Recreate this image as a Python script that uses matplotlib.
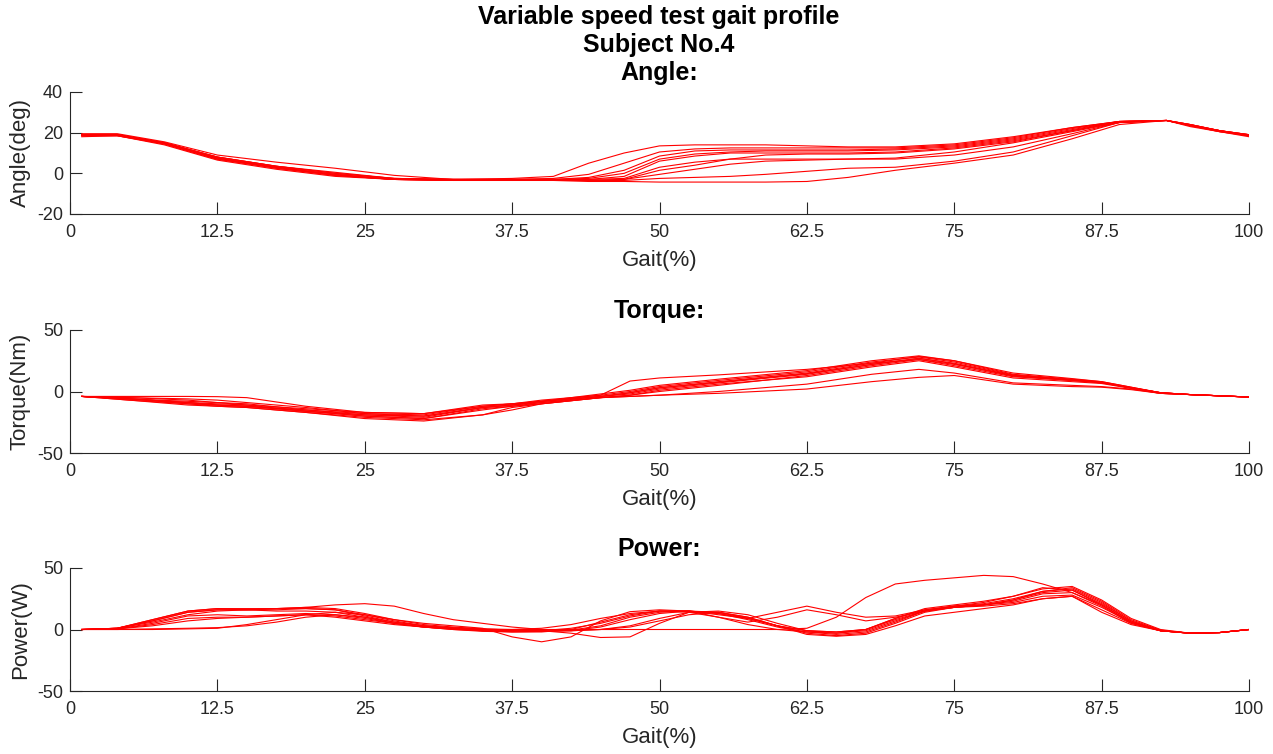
"""Variable speed test gait profile - subject 4 (angle / torque / power)."""
import matplotlib
matplotlib.use("Agg")
import matplotlib.pyplot as plt

plt.rcParams["font.family"] = ["Liberation Sans", "DejaVu Sans"]
plt.rcParams["axes.unicode_minus"] = False

# ---- data ----
gait_ticks = [0, 12.5, 25, 37.5, 50, 62.5, 75, 87.5, 100]
gait_labels = ["0", "12.5", "25", "37.5", "50", "62.5", "75", "87.5", "100"]

angle_x = [1, 4, 8, 12.5, 17.5, 22.5, 27.5, 32.5, 37.5, 41, 44, 47, 50, 53, 56,
           59, 62.5, 66, 70, 75, 80, 85, 89, 93, 95, 97.5, 100]
angle_trials = [
    [19, 19, 15, 8, 3.5, 0.5, -2.5, -3, -2.5, -1.5, 5, 10, 13.5, 14, 14, 14, 13.5, 13, 13, 14.5, 18, 22.5, 25.5, 26, 24, 21, 19],
    [19.5, 19.5, 15.5, 9, 5.5, 2.5, -1, -3, -3, -2.5, -0.5, 5, 10.5, 12, 12.5, 12.5, 12.5, 12.5, 12.5, 14, 17.5, 22.5, 25.5, 26, 23.5, 20.5, 18.5],
    [18, 18.5, 14, 6.5, 2, -1.5, -3, -3.5, -3, -3, -2, 1.5, 8.5, 11, 11.5, 11.5, 11.5, 11.5, 12, 13.5, 17, 22, 25.5, 26, 23.5, 21, 18.5],
    [19, 19, 15, 8, 3.5, 0, -2.5, -3, -3, -3, -2.5, 0, 7, 9.5, 10.5, 11, 11, 11, 11.5, 13, 16.5, 21.5, 25.5, 26, 24, 21, 19],
    [18.5, 19, 14.5, 7, 3, -1, -3, -3.5, -3.5, -3, -3, -1.5, 6, 8.5, 10, 10, 10, 10, 10.5, 12.5, 16, 21, 25, 26, 23, 20.5, 18],
    [19, 19, 15, 7.5, 3, -0.5, -3, -3, -3, -3, -3, -2.5, 3, 5.5, 7, 7, 7, 7, 7.5, 10.5, 15, 20.5, 25, 26, 24, 21, 19],
    [18.5, 18.5, 14.5, 7, 2.5, -1, -3, -3.5, -3.5, -3.5, -3.5, -3, 1.5, 4, 7, 9, 9.5, 9.5, 10, 12, 15.5, 21, 25.5, 26, 23.5, 20.5, 18.5],
    [19, 19, 15, 8, 3.5, 0, -2.5, -3, -3, -3, -3.5, -3, -0.5, 2, 4.5, 6, 6.5, 7, 7, 9, 13, 19.5, 25, 26, 24, 21, 19],
    [18.5, 18.5, 14.5, 7, 2.5, -1, -3, -3.5, -3.5, -3.5, -3.5, -3.5, -2.5, -2, -1.5, -0.5, 1, 2.5, 3, 6, 10.5, 18.5, 25, 26, 23.5, 21, 18.5],
    [19, 19, 15, 7.5, 3, -0.5, -3, -3, -3.5, -3.5, -4, -4, -4.3, -4.3, -4.3, -4.3, -4, -2, 1.5, 5, 9, 17, 24, 26, 23.5, 21, 18.5],
]

torque_x = [1, 5, 10, 12.5, 15, 20, 25, 30, 35, 37.5, 40, 45, 47.5, 50, 55, 62.5,
            68, 72, 75, 80, 85, 87.5, 90, 92.5, 95, 100]
torque_trials = [
    [-4, -4, -4, -4.2, -5, -12, -17, -18, -12, -10, -7, -3, 8.5, 11, 13.5, 18, 23, 26, 22, 13, 9, 7.5, 3, -1, -2.5, -4.5],
    [-4, -5, -6, -7, -9, -13, -18, -20, -13, -11, -8, -4, -1, 3, 8, 15, 23, 28.5, 25, 14, 10, 8, 3.5, -1, -2.5, -4.5],
    [-4, -6, -9, -11, -12, -15, -19, -21, -13, -11, -8, -4, -2, 2, 7, 14, 22, 27, 23, 13, 9.5, 7.5, 3, -1, -2.5, -4.5],
    [-4, -6, -9, -11, -12, -16, -20, -22, -14, -12, -9, -5, -3, 0, 5, 13, 21, 26, 21, 12, 9, 7, 3, -1.5, -2.5, -4.5],
    [-4, -7, -10, -12, -13, -17, -21, -23, -19, -15, -10, -5, -3, 1, 6, 12, 20, 25, 20, 11, 8, 6.5, 2.5, -1.5, -2.5, -4.5],
    [-4, -6, -8, -9, -10, -15, -18, -19, -12, -10, -8, -3, 0, 4, 9, 16, 24, 28, 24, 13.5, 9.5, 7.5, 3, -1, -2.5, -4.5],
    [-4, -7, -11, -12, -13, -17, -22, -24, -19, -13, -10, -5, -4, -3, -1.5, 2, 8, 11.5, 13, 6, 4, 3.5, 1.5, -1.5, -2.5, -4.5],
    [-4, -6, -10, -11, -12, -16, -20, -22, -15, -12, -10, -5, -4, -3, 0, 6, 14, 18, 15, 7, 5, 4, 2, -1.5, -2.5, -4.5],
    [-4, -5, -7, -9, -11, -14, -17, -18, -11, -10, -8, -2, 1, 5, 10, 17, 25, 29, 25, 15, 10.5, 8, 3.5, -1, -2.5, -4.5],
    [-4, -6, -9, -10, -11, -16, -19, -20, -13, -11, -9, -4, -1, 3, 7.5, 14.5, 22, 27, 22.5, 12.5, 9, 7, 3, -1, -2.5, -4.5],
]

power_x = [1, 4, 7, 10, 12.5, 15, 17.5, 20, 22.5, 25, 27.5, 30, 32.5, 35, 37.5, 40,
           42.5, 45, 47.5, 50, 52.5, 55, 57.5, 60, 62.5, 65, 67.5, 70, 72.5, 75,
           77.5, 80, 82.5, 85, 87.5, 90, 92.5, 95, 97.5, 100]
power_trials = [
    [0, 0.5, 4, 9, 10, 10, 11, 12, 10, 7, 4, 2, 0.5, 0, 0, 0, 0, 0, 0, 0, 0, 0, 0, 0, 1, 10, 26, 37, 40, 42, 44, 43, 37, 30, 19, 5, -1, -3, -2.5, 0],
    [0, 1, 8, 15, 17, 16, 16, 17, 16, 12, 8, 5, 3, 1, -6, -10, -6, 7, 14.5, 16, 15, 10, 4, 0, -2, -3, 0, 8, 15, 18, 20, 24, 30, 32, 20, 6, -1, -3, -2.5, 0],
    [0, 1, 7, 14, 16, 16, 17, 18, 17, 13, 8, 4, 2, 0.5, -0.5, -1, -3, -6.5, -6, 5, 14, 14, 9, 3, -1, -2, 0, 9, 16, 19, 21, 25, 31, 33, 22, 7, -1, -3, -2.5, 0],
    [0, 1, 8, 15, 17, 17, 17, 17, 16, 11, 6, 3, 1.5, 0.5, 0, 1, 4, 9, 13, 15, 15, 12, 9, 14, 19, 14, 10, 11, 16, 19, 20, 22, 27, 28, 18, 6, -1, -3, -2.5, 0],
    [0, 0.5, 5, 11, 12, 11, 12, 13, 12, 9, 5, 2, 0.5, -1, -2, -2, 0, 6, 12, 15, 14, 10, 6, 10, 16, 12, 7, 10, 15, 18, 19, 21, 25, 27, 16, 5, -1, -3, -2.5, 0],
    [0, 0, 0, 0.5, 1, 4, 8, 12, 14, 12, 7, 3, 1, 0, -1, -1.5, -1, 2, 8, 13, 15, 14, 10, 3, -3, -5, -3, 5, 14, 18, 20, 24, 31, 34, 23, 8, -0.5, -3, -2.5, 0],
    [0, 0, 0.5, 1, 1.5, 3, 6, 10, 12, 10, 6, 3, 1, -0.5, -1, -1.5, -0.5, 3, 10, 14, 15, 13, 8, 2, -2, -4, -2, 6, 15, 19, 22, 27, 33, 35, 24, 9, 0, -3, -2.5, 0],
    [0, 1, 6, 12, 15, 16, 17, 18, 20, 21, 19, 13, 8, 5, 2, 0, -1, 0, 3, 9, 14, 15, 12, 5, -1, -3, -1, 7, 15, 18, 20, 23, 29, 30, 20, 6, -1, -3, -2.5, 0],
    [0, 0.5, 3, 7, 9, 10, 11, 12, 11, 8, 5, 2, 0, -1.5, -2, -1.5, -1, 0, 2, 7, 12, 14, 10, 3, -4, -5.5, -4, 3, 11, 14, 17, 20, 25, 27, 14, 4, -1, -3, -2.5, 0],
    [0, 1, 7, 14, 16, 16, 15, 15, 14, 10, 5, 2, 0, -1, -1.5, -1, 1, 5, 11, 15, 15, 13, 9, 3, -1, -2, 0, 9, 17, 20, 23, 27, 34, 32, 21, 7, -1, -3, -2.5, 0],
]

panels = [
    ("Angle:", "Angle(deg)", angle_x, angle_trials, (-20, 40), [-20, 0, 20, 40]),
    ("Torque:", "Torque(Nm)", torque_x, torque_trials, (-50, 50), [-50, 0, 50]),
    ("Power:", "Power(W)", power_x, power_trials, (-50, 50), [-50, 0, 50]),
]

W, H = 1273, 754
fig = plt.figure(figsize=(W / 100, H / 100), dpi=100)

# axes boxes in pixels: (top, bottom)
boxes = [(92, 214), (330, 453), (568, 691)]
left_px, right_px = 70, 1249
axis_col = "#262626"

fig.text(659 / W, 1 - 17 / H, "Variable speed test gait profile",
         ha="center", va="center", fontsize=18, fontweight="bold")
fig.text(659 / W, 1 - 45 / H, "Subject No.4",
         ha="center", va="center", fontsize=18, fontweight="bold")

for (title, ylabel, xs, trials, ylim, yticks), (top, bot) in zip(panels, boxes):
    ax = fig.add_axes([left_px / W, 1 - bot / H,
                       (right_px - left_px) / W, (bot - top) / H])
    for ys in trials:
        ax.plot(xs, ys, color="red", linewidth=0.8)

    ax.set_xlim(0, 100)
    ax.set_ylim(*ylim)
    ax.set_xticks(gait_ticks)
    ax.set_xticklabels(gait_labels)
    ax.set_yticks(yticks)

    for side in ("top", "right"):
        ax.spines[side].set_visible(False)
    for side in ("left", "bottom"):
        ax.spines[side].set_color(axis_col)
        ax.spines[side].set_linewidth(0.8)
    ax.tick_params(direction="in", length=8.5, width=0.8, colors=axis_col,
                   labelsize=13)
    ax.tick_params(axis="x", pad=7)
    ax.tick_params(axis="y", pad=5)

    h = bot - top
    ax.set_xlabel("Gait(%)", fontsize=16, color=axis_col)
    ax.set_ylabel(ylabel, fontsize=16, color=axis_col)
    ax.xaxis.set_label_coords(0.5, -36 / h)
    ax.yaxis.set_label_coords(-(70 - 31) / 1179, 0.5)
    ax.text(0.5, 1 + 19 / h, title, transform=ax.transAxes,
            ha="center", va="center", fontsize=18, fontweight="bold")

fig.savefig("out.png", dpi=100)
